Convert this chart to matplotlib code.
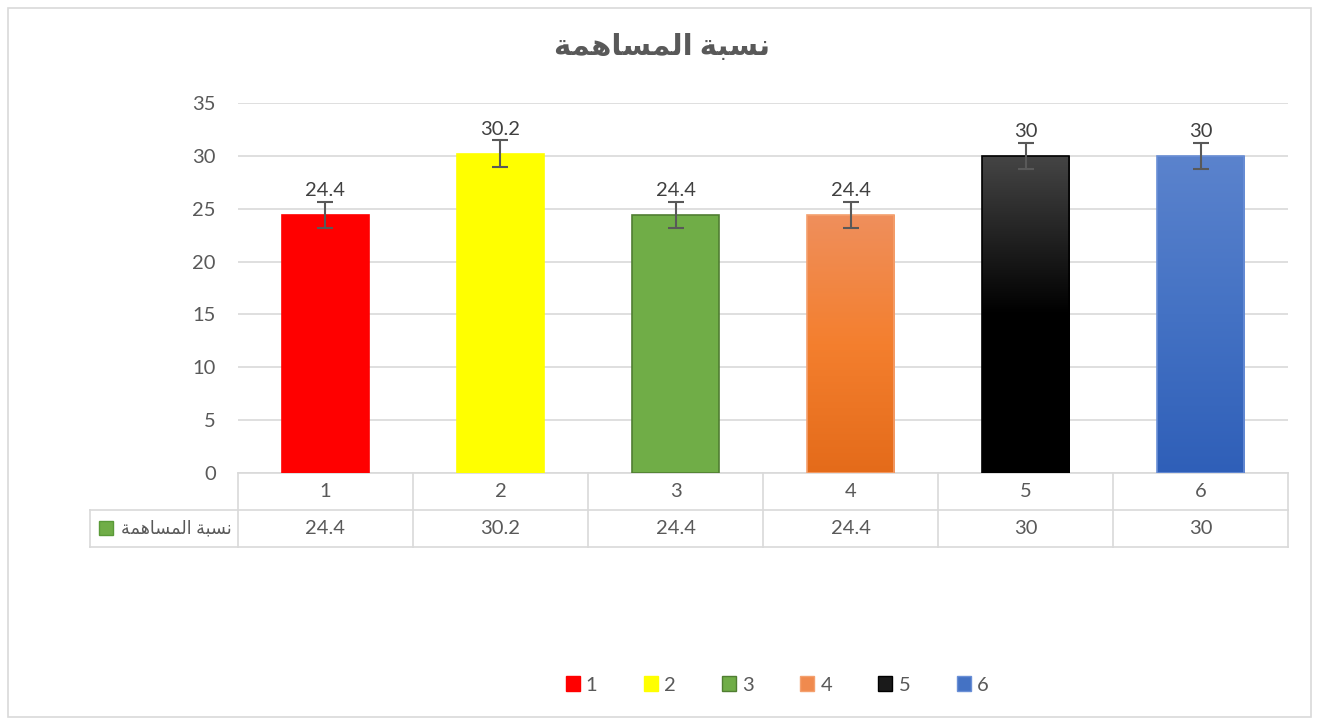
import numpy as np
import matplotlib.pyplot as plt
import matplotlib.transforms as mtransforms
from matplotlib.patches import Patch, Rectangle
from matplotlib.colors import LinearSegmentedColormap

plt.rcParams['font.family'] = ['Lato', 'DejaVu Sans']

categories = ['1', '2', '3', '4', '5', '6']
values = [24.4, 30.2, 24.4, 24.4, 30, 30]
errors = [1.26, 1.26, 1.26, 1.26, 1.26, 1.26]
# "نسبة المساهمة" written with presentation forms in drawing order (matplotlib does no Arabic shaping)
title = '\uFE94\uFEE4\uFEEB\uFE8E\uFEB4\uFEE4\uFEDF\uFE8D \uFE94\uFE92\uFEB4\uFEE7'
series_name = title

bar_colors = ['#FF0000', '#FFFF00', '#70AD47', '#F08A4E', '#1A1A1A', '#4472C4']
edge_colors = ['#FF0000', '#FFFF00', '#507E32', '#F4A06E', '#000000', '#6A8FD6']
# top, middle, bottom colours for the gradient bars
gradients = {
    3: ['#EF8F5C', '#F47F2E', '#E46B1A'],
    4: ['#454545', '#000000', '#000000'],
    5: ['#5B83CD', '#4472C4', '#2F5FB8'],
}
text_col = '#595959'
grid_col = '#D9D9D9'
fs = 14.5

fig = plt.figure(figsize=(13.17, 7.19), dpi=100)
ax = fig.add_axes([0.1807, 0.3422, 0.7973, 0.5145])

x = np.arange(len(values))
bars = ax.bar(x, values, width=0.5, color=bar_colors, linewidth=0, zorder=3)
for i, cols in gradients.items():
    b = bars[i]
    cmap = LinearSegmentedColormap.from_list('g%d' % i, cols[::-1])
    grad = np.linspace(0, 1, 256).reshape(-1, 1)
    im = ax.imshow(grad, cmap=cmap, origin='lower', aspect='auto', zorder=3.5,
                   extent=[b.get_x(), b.get_x() + b.get_width(), 0, b.get_height()])
    im.set_clip_path(b)
ax.bar(x, values, width=0.5, fill=False, edgecolor=edge_colors, linewidth=1.2, zorder=4)

ax.errorbar(x, values, yerr=errors, fmt='none', ecolor=text_col, elinewidth=1.5,
            capsize=6, capthick=1.5, zorder=5)
for xi, v, e in zip(x, values, errors):
    ax.annotate(f'{v:g}', (xi, v + e), xytext=(0, 2), textcoords='offset points',
                ha='center', va='bottom', fontsize=fs, color='#404040')

ax.set_xlim(-0.5, 5.5)
ax.set_ylim(0, 35)
ax.set_yticks(range(0, 36, 5))
ax.set_xticks([])
ax.tick_params(axis='y', length=0, pad=16, labelsize=fs, labelcolor=text_col)
ax.grid(axis='y', color=grid_col, linewidth=1.2, zorder=0)
for s in ax.spines.values():
    s.set_visible(False)

# data table under the axis
trans = mtransforms.blended_transform_factory(ax.transData, ax.transAxes)
row_h = 0.1
left_x = -1.346
kw = dict(color=grid_col, linewidth=1.2, transform=trans, clip_on=False, zorder=1)
ax.plot([-0.5, 5.5], [0, 0], **kw)
ax.plot([left_x, 5.5], [-row_h, -row_h], **kw)
ax.plot([left_x, 5.5], [-2 * row_h, -2 * row_h], **kw)
ax.plot([left_x, left_x], [-row_h, -2 * row_h], **kw)
for k in range(len(categories) + 1):
    ax.plot([k - 0.5, k - 0.5], [0, -2 * row_h], **kw)
for xi, c, v in zip(x, categories, values):
    ax.text(xi, -row_h / 2, c, transform=trans, ha='center', va='center',
            fontsize=fs, color=text_col)
    ax.text(xi, -1.5 * row_h, f'{v:g}', transform=trans, ha='center', va='center',
            fontsize=fs, color=text_col)
ax.text(-0.534, -1.5 * row_h, series_name, transform=trans, ha='right', va='center',
        fontsize=12.7, color=text_col)
ax.plot([-1.254], [-1.5 * row_h], marker='s', markersize=10, color='#70AD47',
        markeredgecolor='#5A9A38', transform=trans, clip_on=False)

handles = [Patch(facecolor=c, edgecolor=e) for c, e in zip(bar_colors, edge_colors)]
fig.legend(handles, categories, loc='center', bbox_to_anchor=(0.59, 1 - 685 / 719),
           ncol=6, frameon=False, handlelength=0.7, handleheight=0.7,
           columnspacing=2.3, handletextpad=0.3, fontsize=fs, labelcolor=text_col)

fig.text(0.503, 1 - 47 / 719, title, ha='center', va='center', fontsize=21,
         fontweight='bold', color=text_col)

fig.add_artist(Rectangle((8 / 1317, 0.003), 1303 / 1317, 709 / 719, transform=fig.transFigure,
                         fill=False, edgecolor=grid_col, linewidth=1.2))

fig.savefig('out.png', dpi=100, facecolor='white')
